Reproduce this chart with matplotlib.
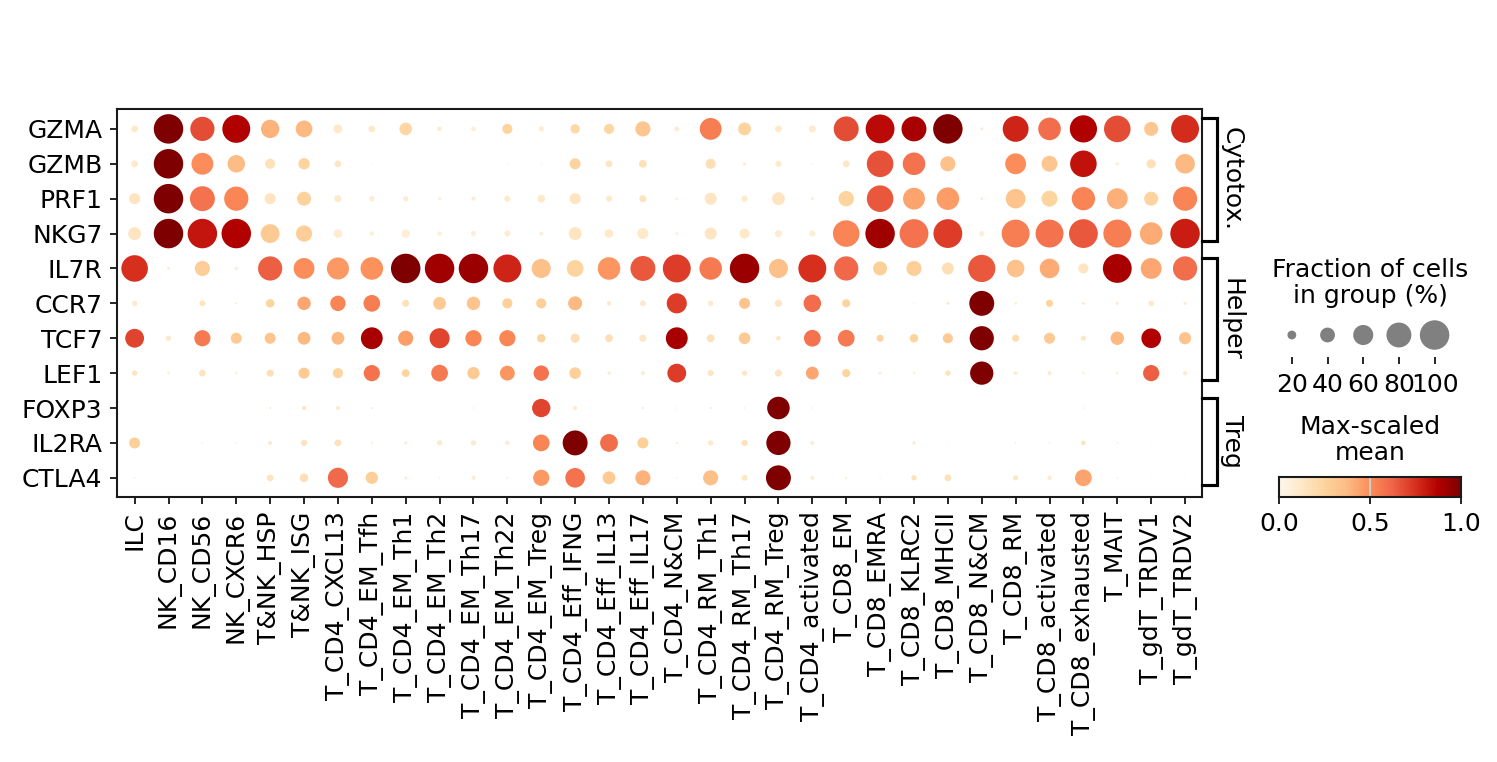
import numpy as np
import matplotlib
matplotlib.use("Agg")
import matplotlib.pyplot as plt
from matplotlib.colors import Normalize

cell_types = ["ILC", "NK_CD16", "NK_CD56", "NK_CXCR6", "T&NK_HSP", "T&NK_ISG",
              "T_CD4_CXCL13", "T_CD4_EM_Tfh", "T_CD4_EM_Th1", "T_CD4_EM_Th2",
              "T_CD4_EM_Th17", "T_CD4_EM_Th22", "T_CD4_EM_Treg", "T_CD4_Eff_IFNG",
              "T_CD4_Eff_IL13", "T_CD4_Eff_IL17", "T_CD4_N&CM", "T_CD4_RM_Th1",
              "T_CD4_RM_Th17", "T_CD4_RM_Treg", "T_CD4_activated", "T_CD8_EM",
              "T_CD8_EMRA", "T_CD8_KLRC2", "T_CD8_MHCII", "T_CD8_N&CM", "T_CD8_RM",
              "T_CD8_activated", "T_CD8_exhausted", "T_MAIT", "T_gdT_TRDV1", "T_gdT_TRDV2"]
genes = ["GZMA", "GZMB", "PRF1", "NKG7", "IL7R", "CCR7", "TCF7", "LEF1", "FOXP3", "IL2RA", "CTLA4"]
gene_groups = ["Cytotox.", "Helper", "Treg"]
group_start = [0, 4, 8]
group_end = [3, 7, 10]

# fraction of cells expressing (%)
frac_GZMA = [14,100,77,93,53,47,20,14,32,8, 9,24,10,22,24,41,9,67,33,14,15, 80,97,80,100,5,84,70,90,87,37,93]
frac_GZMB = [14,100,67,50,24,28,14,1.5,1.5,1, 1,2,2,27,14,17,1,24,5,12,2, 14,87,70,41,1,63,44,87,5,21,58]
frac_PRF1 = [27,100,80,77,27,37,15,10,10,5, 7,12,17,27,12,15,4,30,12,33,5, 42,87,67,70,5,58,44,73,63,37,77]
frac_NKG7 = [33,100,100,100,55,45,19,8,19,8, 10,12,7,33,19,27,5,30,24,15,12, 87,100,97,97,10,93,93,97,93,70,100]
frac_IL7R = [87,5,41,6,77,63,68,70,100,100, 100,93,56,47,70,80,93,70,100,56,93, 77,37,41,30,90,50,58,24,97,63,77]
frac_CCR7 = [10,1,12,3,19,35,42,47,15,33, 35,24,24,37,8,12,60,10,27,15,50, 18,1,2,5,80,4,15,5,5,10,5]
frac_TCF7 = [55,10,45,27,27,33,33,67,41,60, 45,45,19,21,17,15,67,17,29,8,47, 47,15,19,24,77,15,27,10,35,58,31]
frac_LEF1 = [10,4,14,4,15,27,24,45,17,47, 31,40,42,29,5,7,55,12,10,15,33, 18,5,4,10,73,7,7,4,4,45,7]
frac_FOXP3 = [0,0,0,0,3,7,7,3,1,1, 2,1,53,7,1,3,2,3,2,70,2, 0,0,0,0,1,1,0,2,0,0,0]
frac_IL2RA = [27,0,2,2,7,12,14,3,5,10, 10,8,47,80,51,27,3,10,12,77,7, 1,1,5,1,1,2,2,8,2,1,1]
frac_CTLA4 = [2,0,0,0,14,19,60,31,5,2, 7,3,45,58,33,41,2,41,12,80,7, 3,2,10,14,1,10,8,47,2,1,1]

# max-scaled mean expression
mean_GZMA = [.12,1,.68,.88,.4,.38,.12,.12,.24,.1, .08,.25,.1,.22,.24,.32,.1,.55,.25,.12,.1, .68,.85,.9,1,.08,.78,.6,.88,.68,.32,.76]
mean_GZMB = [.12,1,.5,.37,.17,.25,.14,.05,.05,.05, .05,.05,.05,.25,.15,.17,.05,.18,.1,.12,.08, .13,.67,.58,.34,.05,.5,.32,.83,.1,.17,.38]
mean_PRF1 = [.15,1,.58,.52,.15,.26,.12,.1,.1,.08, .1,.12,.12,.15,.12,.15,.08,.15,.12,.15,.08, .25,.66,.44,.46,.08,.33,.25,.53,.41,.25,.53]
mean_NKG7 = [.15,1,.82,.88,.3,.28,.1,.08,.08,.08, .08,.1,.08,.15,.12,.12,.08,.15,.12,.1,.08, .53,.92,.58,.72,.08,.55,.58,.66,.55,.42,.8]
mean_IL7R = [.75,.08,.28,.08,.64,.5,.47,.49,1,.92, .93,.78,.35,.25,.48,.66,.72,.56,.93,.35,.75, .62,.27,.27,.18,.66,.34,.42,.15,.9,.43,.6]
mean_CCR7 = [.12,.05,.15,.08,.25,.43,.53,.55,.17,.3, .33,.27,.27,.38,.12,.12,.72,.12,.33,.15,.6, .25,.05,.05,.12,1,.08,.25,.1,.1,.13,.1]
mean_TCF7 = [.7,.12,.56,.3,.33,.38,.38,.9,.46,.7, .52,.52,.25,.18,.18,.13,.9,.17,.3,.15,.58, .56,.25,.25,.3,1,.2,.3,.13,.38,.88,.33]
mean_LEF1 = [.15,.08,.15,.08,.18,.3,.25,.58,.25,.56, .3,.48,.58,.27,.12,.1,.72,.15,.13,.15,.43, .25,.1,.08,.17,1,.1,.1,.08,.08,.64,.12]
mean_FOXP3 = [0,0,0,0,.12,.15,.12,.1,.08,.08, .08,.08,.7,.12,.08,.1,.08,.1,.1,1,.08, 0,0,0,0,.05,.08,0,.08,0,0,0]
mean_IL2RA = [.27,0,.1,.08,.12,.17,.17,.1,.1,.12, .12,.1,.53,1,.6,.27,.1,.12,.17,1,.1, .08,.08,.12,.08,.08,.1,.1,.17,.1,.08,.08]
mean_CTLA4 = [.08,0,0,0,.15,.18,.61,.28,.1,.08, .1,.08,.47,.58,.3,.4,.08,.35,.13,1,.1, .1,.08,.17,.17,.05,.13,.1,.44,.08,.08,.08]

legend_fracs = [20, 40, 60, 80, 100]

frac = np.array([frac_GZMA, frac_GZMB, frac_PRF1, frac_NKG7, frac_IL7R, frac_CCR7,
                 frac_TCF7, frac_LEF1, frac_FOXP3, frac_IL2RA, frac_CTLA4], dtype=float) / 100.0
mean = np.array([mean_GZMA, mean_GZMB, mean_PRF1, mean_NKG7, mean_IL7R, mean_CCR7,
                 mean_TCF7, mean_LEF1, mean_FOXP3, mean_IL2RA, mean_CTLA4], dtype=float)

plt.rcParams['font.family'] = ['DejaVu Sans']
FS = 12
W, H = 1497, 762
DPI = 150
fig = plt.figure(figsize=(W / DPI, H / DPI), dpi=DPI)

def px_axes(x0, y0, x1, y1):
    return fig.add_axes([x0 / W, 1 - y1 / H, (x1 - x0) / W, (y1 - y0) / H])

cmap = plt.get_cmap('OrRd')
norm = Normalize(0, 1)
largest = 200.0

def size_of(f):
    return (np.asarray(f) ** 1.5) * largest

ax = px_axes(117, 109, 1202, 497)
ny, nx = frac.shape
ylim = (ny - 0.45, -0.57)
xx, yy = np.meshgrid(np.arange(nx), np.arange(ny))
ax.scatter(xx.ravel(), yy.ravel(), s=size_of(frac.ravel()), c=mean.ravel(),
           cmap=cmap, norm=norm, linewidths=0, edgecolors='none')
ax.set_xlim(-0.52, nx - 0.5)
ax.set_ylim(*ylim)
ax.set_xticks(np.arange(nx))
ax.set_xticklabels(cell_types, rotation=90, fontsize=FS)
ax.set_yticks(np.arange(ny))
ax.set_yticklabels(genes, fontsize=FS)
ax.grid(False)
for s in ax.spines.values():
    s.set_linewidth(1.0)
    s.set_color('#1a1a1a')

# gene group brackets
bax = px_axes(1202, 109, 1262, 497)
bax.set_xlim(0, 1)
bax.set_ylim(*ylim)
bax.axis('off')
for lab, st, en in zip(gene_groups, group_start, group_end):
    top = st - 0.3
    bot = en + 0.2
    bax.plot([0, 0.25, 0.25, 0], [top, top, bot, bot], color='black', lw=1.5,
             solid_joinstyle='miter', clip_on=False)
    bax.text(0.5, (top + bot) / 2, lab, rotation=270, fontsize=FS,
             ha='center', va='center')

# size legend
fig.text(1370 / W, 1 - 283 / H, "Fraction of cells\nin group (%)", ha='center',
         va='center', fontsize=FS, linespacing=1.15)
sax = px_axes(1274, 313, 1466, 357)
sax.scatter(np.arange(len(legend_fracs)) + 0.5, np.zeros(len(legend_fracs)),
            s=size_of(np.array(legend_fracs) / 100.0), color='gray', linewidths=0)
sax.set_xlim(0, 5.38)
sax.set_ylim(-1, 1)
sax.set_xticks(np.arange(len(legend_fracs)) + 0.5)
sax.set_xticklabels([str(v) for v in legend_fracs], fontsize=FS)
sax.tick_params(axis='x', length=3.5, pad=4)
sax.set_yticks([])
for s in sax.spines.values():
    s.set_visible(False)

# colorbar
fig.text(1370 / W, 1 - 440 / H, "Max-scaled\nmean", ha='center', va='center',
         fontsize=FS, linespacing=1.15)
cax = px_axes(1279, 477, 1461, 497)
grad = np.linspace(0, 1, 256).reshape(1, -1)
cax.imshow(grad, aspect='auto', cmap=cmap, norm=norm, extent=(0, 1, 0, 1))
cax.axvline(0.5, color='#cccccc', lw=1.0)
cax.set_xlim(0, 1)
cax.set_ylim(0, 1)
cax.set_yticks([])
cax.set_xticks([0, 0.5, 1.0])
cax.set_xticklabels(['0.0', '0.5', '1.0'], fontsize=FS)
for s in cax.spines.values():
    s.set_linewidth(1.0)
    s.set_color('#1a1a1a')

fig.savefig('out.png', dpi=DPI)
